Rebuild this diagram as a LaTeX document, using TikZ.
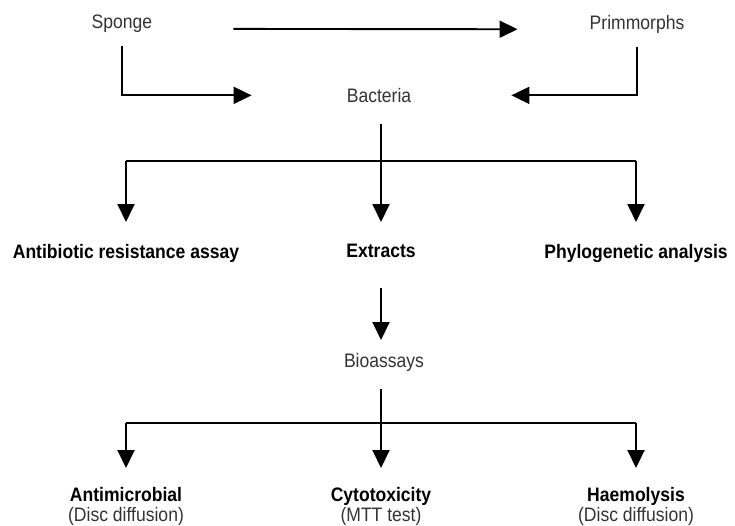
\documentclass[tikz,border=0pt]{standalone}
\usepackage{fontspec}
\setmainfont{Liberation Sans}[FakeStretch=0.9]
\usetikzlibrary{arrows.meta,positioning}

\begin{document}
\begin{tikzpicture}[
    x=1pt, y=-1pt,
    every node/.style={inner sep=0pt, anchor=north, align=center, font=\fontsize{19.5}{20}\selectfont},
    plain/.style={text=black!80},
    heading/.style={font=\fontsize{19.5}{20}\selectfont\bfseries},
    line/.style={line width=1.9pt},
    arrow/.style={line width=1.9pt, -{Triangle[length=18pt,width=17pt]}}
]
\useasboundingbox (0,0) rectangle (735,525);
\node[plain] (sponge) at (122,15) {Sponge};
\node[plain] (prim) at (637,15) {Primmorphs};
\node[plain] (bact) at (379,88) {Bacteria};
\node[heading] (abr) at (126,244) {Antibiotic resistance assay};
\node[heading] (extr) at (381,244) {Extracts};
\node[heading] (phylo) at (636,244) {Phylogenetic analysis};
\node[plain] (bio) at (384,353) {Bioassays};
\node (anti) at (126,487) {\textbf{Antimicrobial}\\{\color{black!80}(Disc diffusion)}};
\node (cyto) at (381,487) {\textbf{Cytotoxicity}\\{\color{black!80}(MTT test)}};
\node (haemo) at (636,487) {\textbf{Haemolysis}\\{\color{black!80}(Disc diffusion)}};
\coordinate (split1) at (381,161);
\coordinate (split2) at (381,423);

% sources into bacteria
\draw[arrow, shorten <=81pt, shorten >=72pt] (sponge.base east) -- (prim.base west);
\draw[arrow, shorten <=13pt, shorten >=95pt] (sponge.south) |- (bact.west);
\draw[arrow, shorten <=13pt, shorten >=100pt] (prim.south) |- (bact.east);

% first branching
\draw[line, shorten <=21pt] (bact.south -| split1) -- (split1);
\draw[line] (abr |- split1) -- (phylo |- split1);
\foreach \n in {abr,extr,phylo}
    \draw[arrow, shorten >=22pt] (\n |- split1) -- (\n.north);

\draw[arrow, shorten <=30pt, shorten >=13pt] (extr.south) -- (bio.north -| extr);

% second branching
\draw[line, shorten <=17pt] (bio.south -| split2) -- (split2);
\draw[line] (anti |- split2) -- (haemo |- split2);
\foreach \n in {anti,cyto,haemo}
    \draw[arrow, shorten >=19pt] (\n |- split2) -- (\n.north);
\end{tikzpicture}
\end{document}
